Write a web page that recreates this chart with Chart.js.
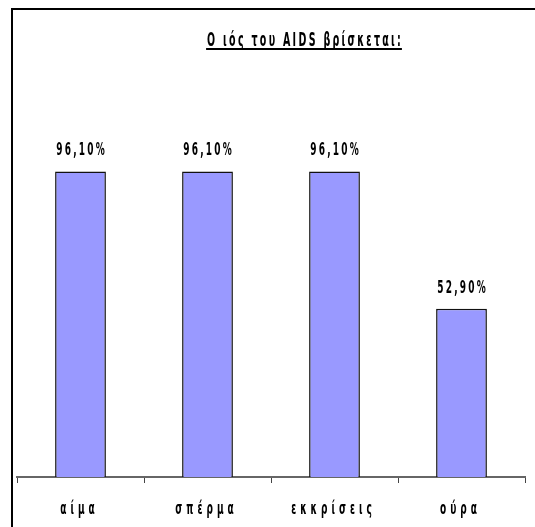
<!DOCTYPE html>
<html>
<head>
<meta charset="utf-8">
<script src="https://cdn.jsdelivr.net/npm/chart.js@4.4.1/dist/chart.umd.min.js"></script>
<style>
  html, body { margin: 0; padding: 0; background: #ffffff; }
  #wrap { width: 535px; height: 527px; position: relative; }
</style>
</head>
<body>
<div id="wrap"><canvas id="c" width="535" height="527"></canvas></div>
<script>
// Data
const categories = ['αίμα', 'σπέρμα', 'εκκρίσεις', 'ούρα'];
const percentages = [96.1, 96.1, 96.1, 52.9];
const valueLabels = ['96,10%', '96,10%', '96,10%', '52,90%'];
const chartTitle = 'Ο ιός του AIDS βρίσκεται:';

const FONT = '"DejaVu Sans", sans-serif';

// Draws text squeezed horizontally (tall, narrow lettering) with extra
// tracking between characters; returns the drawn width.
function narrowText(ctx, text, cx, baseline, size, squeeze, tracking) {
  ctx.save();
  ctx.font = 'bold ' + size + 'px ' + FONT;
  ctx.letterSpacing = (tracking / squeeze) + 'px';
  const raw = ctx.measureText(text).width - tracking / squeeze; // drop trailing gap
  const w = raw * squeeze;
  ctx.translate(cx - w / 2, baseline);
  ctx.scale(squeeze, 1);
  ctx.textAlign = 'left';
  ctx.textBaseline = 'alphabetic';
  ctx.fillText(text, 0, 0);
  ctx.restore();
  return w;
}

// Outer frame (top and left edges), underlined title, value and category labels
const decorations = {
  id: 'decorations',
  beforeDraw(chart) {
    const ctx = chart.ctx;
    ctx.save();
    ctx.strokeStyle = '#000';
    ctx.lineWidth = 2;
    ctx.beginPath();
    ctx.moveTo(12, 527);
    ctx.lineTo(12, 9);
    ctx.lineTo(535, 9);
    ctx.stroke();
    ctx.restore();
  },
  afterDatasetsDraw(chart) {
    const ctx = chart.ctx;
    ctx.save();
    ctx.fillStyle = '#000';
    // title with underline
    const tx = 304, ty = 46;
    const tw = narrowText(ctx, chartTitle, tx, ty, 19, 0.5, 2.3);
    ctx.fillRect(tx - tw / 2 - 1, ty + 2, tw + 2, 2);
    // values above bars
    const meta = chart.getDatasetMeta(0);
    meta.data.forEach((bar, i) => {
      narrowText(ctx, valueLabels[i], bar.x, bar.y - 16, 18, 0.5, 2.2);
    });
    // category names under the axis
    const xs = chart.scales.x;
    categories.forEach((name, i) => {
      narrowText(ctx, name, xs.getPixelForTick(i) - 3, 514, 18, 0.5, 4);
    });
    ctx.restore();
  }
};

new Chart(document.getElementById('c'), {
  type: 'bar',
  data: {
    labels: categories,
    datasets: [{
      data: percentages,
      backgroundColor: '#9999ff',
      borderColor: '#111',
      borderWidth: 1.5,
      barPercentage: 0.8,
      categoryPercentage: 0.5
    }]
  },
  options: {
    responsive: false,
    animation: false,
    devicePixelRatio: 1,
    layout: { padding: { left: 17, right: 10, top: 159, bottom: 44 } },
    plugins: { legend: { display: false }, title: { display: false }, tooltip: { enabled: false } },
    scales: {
      x: {
        grid: { offset: true, drawOnChartArea: false, drawTicks: true, tickLength: 6, color: '#444', lineWidth: 1 },
        border: { display: true, color: '#666', width: 2 },
        ticks: { display: false }
      },
      y: {
        display: false,
        min: 0,
        max: 100
      }
    }
  },
  plugins: [decorations]
});
</script>
</body>
</html>
